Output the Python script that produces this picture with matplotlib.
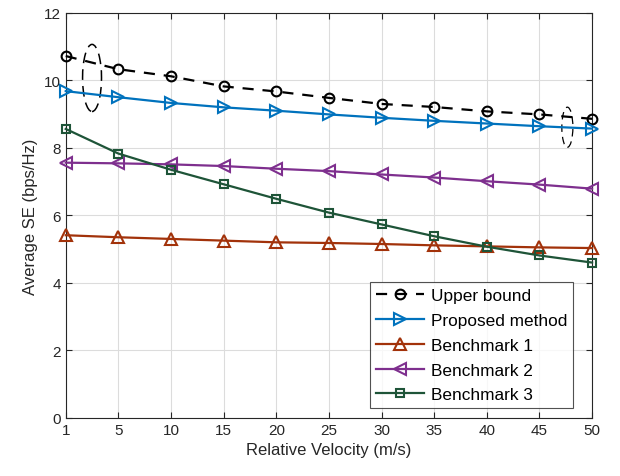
import matplotlib
matplotlib.use('Agg')
import matplotlib.pyplot as plt
from matplotlib.patches import Ellipse
import numpy as np

plt.rcParams['font.family'] = ['Liberation Sans', 'DejaVu Sans']

velocity = [1, 5, 10, 15, 20, 25, 30, 35, 40, 45, 50]
upper_bound = [10.72, 10.33, 10.12, 9.82, 9.67, 9.48, 9.30, 9.21, 9.08, 8.99, 8.86]
proposed = [9.68, 9.50, 9.33, 9.20, 9.10, 8.99, 8.89, 8.80, 8.72, 8.64, 8.57]
bench1 = [5.41, 5.35, 5.30, 5.25, 5.20, 5.18, 5.15, 5.11, 5.08, 5.05, 5.03]
bench2 = [7.56, 7.54, 7.51, 7.46, 7.38, 7.31, 7.21, 7.12, 7.01, 6.91, 6.79]
bench3 = [8.56, 7.83, 7.35, 6.92, 6.49, 6.08, 5.73, 5.38, 5.07, 4.81, 4.60]

x = np.arange(len(velocity))

fig = plt.figure(figsize=(6.2, 4.77), dpi=100)
ax = fig.add_axes([0.106, 0.122, 0.849, 0.849])

common = dict(lw=1.6, mfc='none', mew=1.5, clip_on=False, zorder=3)
ax.plot(x, upper_bound, '--o', color='k', ms=7, dashes=(5, 4),
        label='Upper bound', **common)
ax.plot(x, proposed, '->', color='#0072BD', ms=8, label='Proposed method', **common)
ax.plot(x, bench1, '-^', color='#A2320A', ms=8, label='Benchmark 1', **common)
ax.plot(x, bench2, '-<', color='#7E2F8E', ms=8, label='Benchmark 2', **common)
ax.plot(x, bench3, '-s', color='#1E5438', ms=5.5, label='Benchmark 3', **common)

# dashed ellipses
ax.add_patch(Ellipse((0.5, 10.07), 0.36, 1.99, fill=False, lw=1.1, color='k',
                     linestyle=(0, (7, 4))))
ax.add_patch(Ellipse((9.53, 8.61), 0.21, 1.19, fill=False, lw=0.9, color='k',
                     linestyle=(0, (6, 4))))

ax.set_xlim(0, len(velocity) - 1)
ax.set_ylim(0, 12)
ax.set_xticks(x)
ax.set_xticklabels([str(v) for v in velocity])
ax.set_yticks(np.arange(0, 13, 2))
ax.grid(True, color='#dcdcdc', lw=0.8)
ax.set_axisbelow(True)
ax.tick_params(direction='in', labelsize=11, colors='#262626', length=4, top=True, right=True,
               labeltop=False, labelright=False)
for s in ax.spines.values():
    s.set_color('#262626')
    s.set_linewidth(0.8)
ax.set_xlabel('Relative Velocity (m/s)', fontsize=12, color='#262626')
ax.set_ylabel('Average SE (bps/Hz)', fontsize=12, color='#262626')

leg = ax.legend(loc='lower right', bbox_to_anchor=(0.964, 0.023), fontsize=12.4,
                frameon=True, fancybox=False, edgecolor='#262626', handlelength=2.8,
                borderpad=0.35, labelspacing=0.57, handletextpad=0.4, borderaxespad=0)
leg.get_frame().set_linewidth(0.8)
leg.set_zorder(5)

fig.savefig('out.png', dpi=100)
